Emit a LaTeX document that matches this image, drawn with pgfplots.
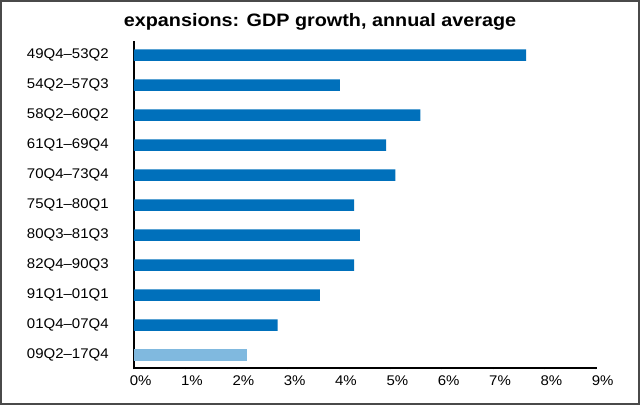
\documentclass[border=0pt]{standalone}
\usepackage{fontspec}
\setmainfont{Liberation Sans}[FakeStretch=1.07]
\newfontfamily\titlefont{Liberation Sans}[FakeStretch=1.1]
\usepackage{pgfplots}
\pgfplotsset{compat=1.18}

\definecolor{barblue}{HTML}{0070BB}
\definecolor{barlight}{HTML}{80B9DF}
\definecolor{framegray}{HTML}{4A4A4A}

\begin{document}
\begin{tikzpicture}
\begin{axis}[
  scale only axis,
  width=346.5pt, height=245.25pt,
  xmin=0, xmax=9,
  ymin=-0.47, ymax=10.43,
  y dir=reverse,
  axis x line*=bottom,
  axis y line*=left,
  axis line style={black, line width=0.8pt},
  xtick={0,...,9},
  xticklabels={0\rlap{\%},1\rlap{\%},2\rlap{\%},3\rlap{\%},4\rlap{\%},5\rlap{\%},6\rlap{\%},7\rlap{\%},8\rlap{\%},9\rlap{\%}},
  ytick={0,...,10},
  yticklabels={49Q4–53Q2,54Q2–57Q3,58Q2–60Q2,61Q1–69Q4,70Q4–73Q4,75Q1–80Q1,80Q3–81Q3,82Q4–90Q3,91Q1–01Q1,01Q4–07Q4,09Q2–17Q4},
  tick align=center,
  x tick style={black, line width=0.8pt},
  major tick length=2pt,
  y tick style={draw=none},
  ticklabel style={font=\fontsize{10.5}{12}\selectfont},
  x tick label style={yshift=-1.5pt},
  y tick label style={xshift=-13.5pt},
  xbar, bar width=0.383, bar shift=0pt,
  clip=false,
]
% expansions, average annual GDP growth (%)
\addplot[draw=none, fill=barblue] coordinates {
  (7.64,0) (4.01,1) (5.58,2) (4.91,3) (5.09,4)
  (4.29,5) (4.40,6) (4.29,7) (3.62,8) (2.80,9)
};
\addplot[draw=none, fill=barlight] coordinates {
  (2.21,10)
};

\node[anchor=base, font=\titlefont\bfseries\fontsize{13.5}{15}\selectfont]
  at ([xshift=139.5pt, yshift=10.75pt]axis description cs:0,1) {expansions: GDP growth, annual average};
\draw[framegray, line width=1.5pt]
  ([xshift=-99.75pt, yshift=-27pt]axis description cs:0,0) rectangle ([xshift=32.25pt, yshift=30pt]axis description cs:1,1);
\end{axis}
\end{tikzpicture}
\end{document}
